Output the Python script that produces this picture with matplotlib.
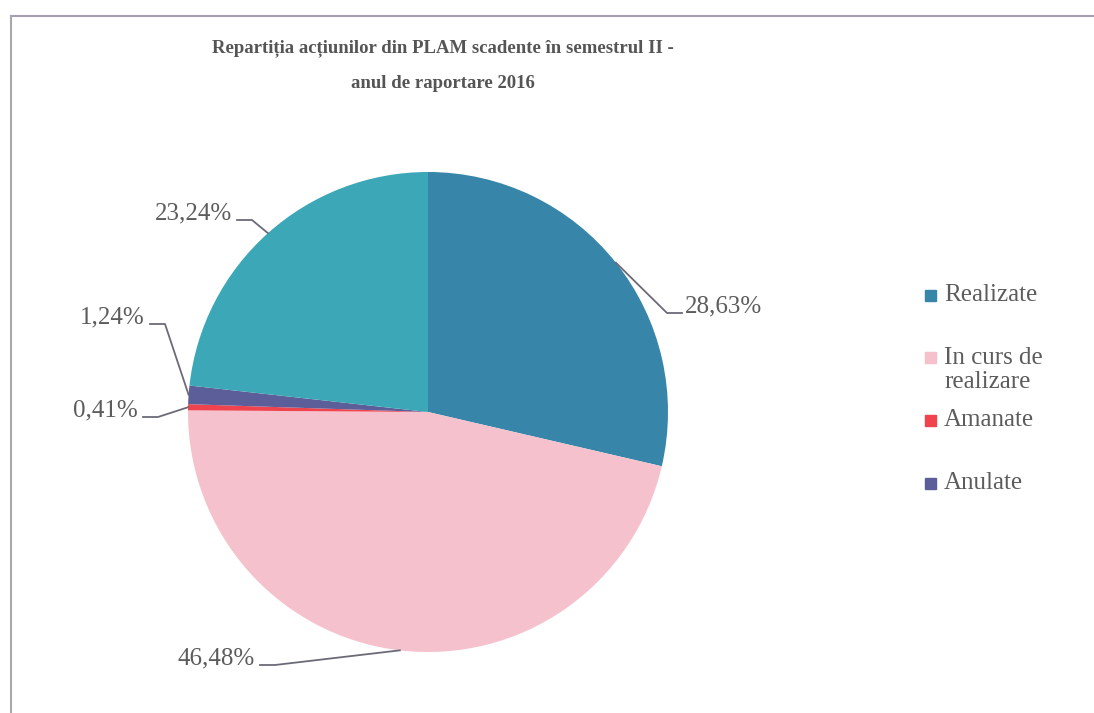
import numpy as np
import matplotlib.pyplot as plt
from matplotlib.patches import Rectangle
from matplotlib.lines import Line2D

plt.rcParams['font.family'] = ['Liberation Serif', 'DejaVu Serif']

# data
categories = ["Realizate", "In curs de\nrealizare", "Amanate", "Anulate", ""]
shares = [28.63, 46.48, 0.41, 1.24, 23.24]
pct_labels = ["28,63%", "46,48%", "0,41%", "1,24%", "23,24%"]
colors = ["#3786a9", "#f4c1cc", "#ef434e", "#5b5e98", "#3ba7b7"]

W, H = 1094, 713
fig = plt.figure(figsize=(W / 100, H / 100), dpi=100)
fig.patch.set_facecolor("white")

# chart frame (top and left edges visible in the scan)
fig.add_artist(Line2D([11 / W, 1], [1 - 16 / H] * 2, color="#a59fb0", lw=1.5))
fig.add_artist(Line2D([11 / W] * 2, [0, 1 - 16 / H], color="#a8a8ae", lw=1.5))

# pie axes: centre (428, 412) px, radius 240 px
cx, cy, r = 428, 412, 240
ax = fig.add_axes([(cx - r) / W, (H - cy - r) / H, 2 * r / W, 2 * r / H])
wedges, _ = ax.pie(shares, colors=colors, startangle=90, counterclock=False,
                   radius=1.0, wedgeprops=dict(linewidth=0))
ax.set_xlim(-1, 1)
ax.set_ylim(-1, 1)
ax.set_aspect("auto")
ax.axis("off")


def px(x, y):
    return (x - cx) / r, (cy - y) / r


# label placement (text anchor px, side)
label_pos = [(685, 306, "left"), (255, 658, "right"), (138, 410, "right"),
             (145, 317, "right"), (232, 213, "right")]
txt_col = "#5c5c5c"
line_col = "#6b6b78"
for w, lab, (tx, ty, side) in zip(wedges, pct_labels, label_pos):
    mid = np.deg2rad((w.theta1 + w.theta2) / 2)
    ex, ey = np.cos(mid), np.sin(mid)
    x0, y0 = px(tx, ty)
    ax.text(x0, y0, lab, ha=side, va="center", fontsize=18, color=txt_col,
            clip_on=False)
    if side == "left":
        lx = x0 - 3 / r
        kx = lx - 15 / r
    else:
        lx = x0 + 5 / r
        kx = lx + 15 / r
    ly = y0 - 7 / r
    ax.plot([lx, kx, ex], [ly, ly, ey], color=line_col, lw=1.3, clip_on=False)

# title
fig.text(0.5 * (212 + 673) / W, 1 - 48 / H,
         "Repartiția acțiunilor din PLAM scadente în semestrul II -",
         ha="center", va="center", fontsize=13.5, fontweight="bold", color="#555555")
fig.text(0.5 * (212 + 673) / W, 1 - 83 / H, "anul de raportare 2016",
         ha="center", va="center", fontsize=13.5, fontweight="bold", color="#555555")

# legend (first four categories)
leg_y = [295, 370, 420, 483]
for lab, col, y in zip(categories[:4], colors[:4], leg_y):
    n = lab.count("\n")
    ys = y - 13 * n
    fig.add_artist(Rectangle(((925) / W, 1 - (ys + 5.5) / H), 11 / W, 11 / H,
                             color=col, transform=fig.transFigure))
    fig.text(944 / W, 1 - y / H, lab, ha="left", va="center", fontsize=18,
             color=txt_col, linespacing=1.15, multialignment="left")

fig.savefig("out.png", dpi=100, facecolor="white")
